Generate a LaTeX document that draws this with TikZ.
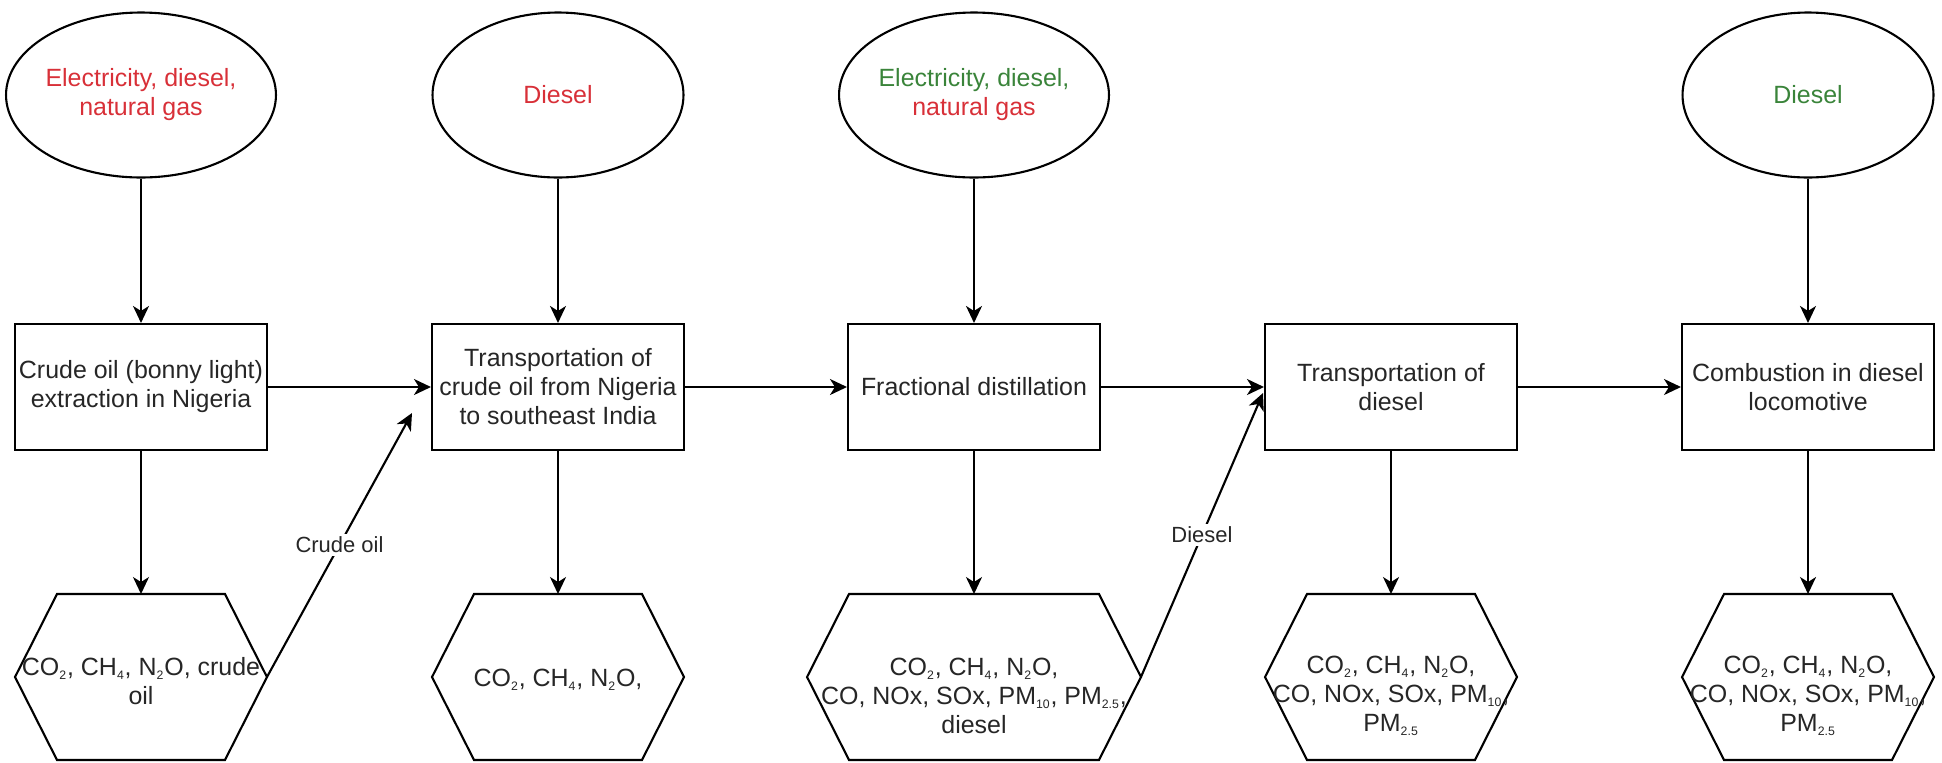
\documentclass[tikz,border=0pt]{standalone}
\usepackage{fontspec}
\setmainfont{Liberation Sans}
\usetikzlibrary{shapes.geometric,arrows.meta}

\definecolor{inred}{RGB}{216,48,56}
\definecolor{ingreen}{RGB}{58,132,58}

\newcommand{\mainsize}{\fontsize{14.2}{16.5}\selectfont}
\newcommand{\labelsize}{\fontsize{12.5}{14.5}\selectfont}
\newcommand{\tinysub}[1]{\textsubscript{\fontsize{7}{8}\selectfont #1}}

\tikzstyle{every node}=[font=\mainsize,text=black!85]
\tikzstyle{inball}=[ellipse,draw,line width=1.2pt,minimum width=5.02cm,minimum height=3.3cm,inner sep=0pt,align=center]
\tikzstyle{stepbox}=[rectangle,draw,line width=1.2pt,minimum width=5.04cm,minimum height=2.52cm,inner sep=0pt,align=center]
\tikzstyle{hexframe}=[rectangle,draw=none,minimum width=5.04cm,minimum height=3.32cm,inner sep=0pt,outer sep=0pt]
\tikzstyle{hextext}=[align=center,inner sep=0pt]
\tikzstyle{flow}=[line width=1.2pt,-{Stealth[length=0.34cm,width=0.32cm,inset=0.1cm]}]
\tikzstyle{flowlabel}=[font=\labelsize,fill=white,inner sep=1.5pt]

\newcommand{\setup}{
    \coordinate (e1) at (141,95);
    \coordinate (e2) at (558,95);
    \coordinate (e3) at (974,95);
    \coordinate (e5) at (1808,95);

    \coordinate (p1) at (141,387);
    \coordinate (p2) at (558,387);
    \coordinate (p3) at (974,387);
    \coordinate (p4) at (1391,387);
    \coordinate (p5) at (1808,387);

    \coordinate (q1) at (141,677);
    \coordinate (q2) at (558,677);
    \coordinate (q3) at (974,677);
    \coordinate (q4) at (1391,677);
    \coordinate (q5) at (1808,677);

    \coordinate (crudeend) at (412,413);
    \coordinate (dieselend) at (1263,393);
}
\newcommand{\hexout}[3]{
    \node[hexframe,minimum width=#3] (#1) at (#2) {};
    \draw[line width=1.2pt] ([xshift=0.84cm]#1.north west) -- ([xshift=-0.84cm]#1.north east) -- (#1.east)
        -- ([xshift=-0.84cm]#1.south east) -- ([xshift=0.84cm]#1.south west) -- (#1.west) -- cycle;
}

\begin{document}
\begin{tikzpicture}[x=0.02cm,y=-0.02cm]
    \useasboundingbox (0,0) rectangle (1942,762);
    \setup;

    % inputs
    \node[inball] (in1) at (e1) {\color{inred}Electricity, diesel,\\\color{inred}natural gas};
    \node[inball] (in2) at (e2) {\color{inred}Diesel};
    \node[inball] (in3) at (e3) {\color{ingreen}Electricity, diesel,\\\color{inred}natural gas};
    \node[inball] (in5) at (e5) {\color{ingreen}Diesel};

    \node[stepbox] (st1) at (p1) {Crude oil (bonny light)\\extraction in Nigeria};
    \node[stepbox] (st2) at (p2) {Transportation of\\crude oil from Nigeria\\to southeast India};
    \node[stepbox] (st3) at (p3) {Fractional distillation};
    \node[stepbox] (st4) at (p4) {Transportation of\\diesel};
    \node[stepbox] (st5) at (p5) {Combustion in diesel\\locomotive};

    % emissions
    \hexout{out1}{q1}{5.04cm}
    \hexout{out2}{q2}{5.04cm}
    \hexout{out3}{q3}{6.68cm}
    \hexout{out4}{q4}{5.04cm}
    \hexout{out5}{q5}{5.04cm}

    \node[hextext] (t1) at (141,681) {CO\tinysub{2}, CH\tinysub{4}, N\tinysub{2}O, crude\\oil};
    \node[hextext] (t2) at (558,680) {CO\tinysub{2}, CH\tinysub{4}, N\tinysub{2}O,};
    \node[hextext] (t3) at (974,696) {CO\tinysub{2}, CH\tinysub{4}, N\tinysub{2}O,\\CO, NOx, SOx, PM\tinysub{10}, PM\tinysub{2.5},\\diesel};
    \node[hextext] (t4) at (1391,696) {CO\tinysub{2}, CH\tinysub{4}, N\tinysub{2}O,\\CO, NOx, SOx, PM\tinysub{10},\\PM\tinysub{2.5}};
    \node[hextext] (t5) at (1808,696) {CO\tinysub{2}, CH\tinysub{4}, N\tinysub{2}O,\\CO, NOx, SOx, PM\tinysub{10},\\PM\tinysub{2.5}};

    \draw[flow] (in1) -- (st1);
    \draw[flow] (in2) -- (st2);
    \draw[flow] (in3) -- (st3);
    \draw[flow] (in5) -- (st5);

    \draw[flow] (st1) -- (st2);
    \draw[flow] (st2) -- (st3);
    \draw[flow] (st3) -- (st4);
    \draw[flow] (st4) -- (st5);

    \draw[flow] (st1) -- (out1);
    \draw[flow] (st2) -- (out2);
    \draw[flow] (st3) -- (out3);
    \draw[flow] (st4) -- (out4);
    \draw[flow] (st5) -- (out5);

    \draw[flow] (out1.east) -- node[flowlabel] (crude) {Crude oil} (crudeend);
    \draw[flow] (out3.east) -- node[flowlabel] (diesel) {Diesel} (dieselend);
\end{tikzpicture}
\end{document}
